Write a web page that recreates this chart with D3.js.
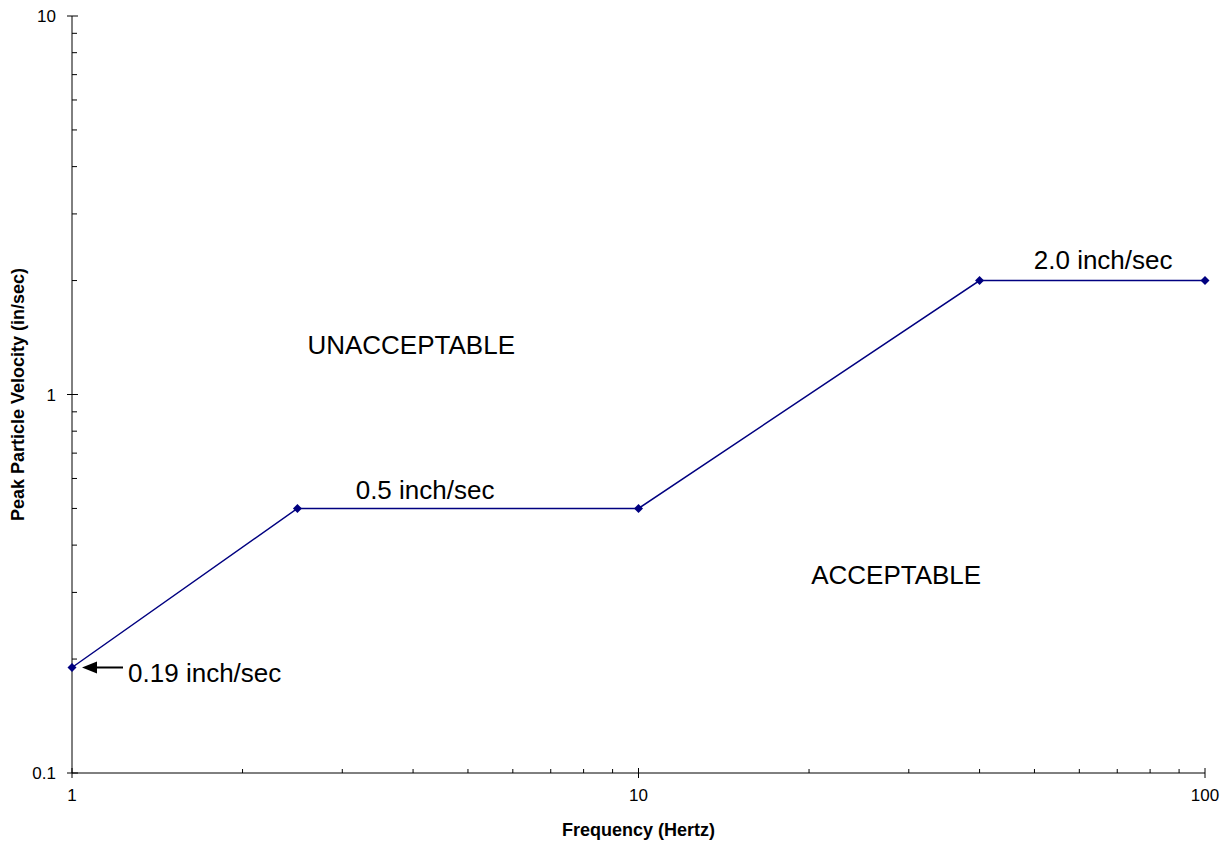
<!DOCTYPE html>
<html lang="en">
<head>
    <meta charset="UTF-8">
    <title>Vibration criteria</title>
    <script src="https://d3js.org/d3.v7.min.js"></script>
    <style>
        body { margin: 0; background: #fff; }
        text { font-family: Arial, "Liberation Sans", sans-serif; }
    </style>
</head>
<body>
    <svg width="1230" height="848"></svg>

    <script>
        // data
        const frequencies = [1, 2.5, 10, 40, 100];
        const velocities = [0.19, 0.5, 0.5, 2.0, 2.0];
        const xTickValues = [1, 10, 100];
        const yTickValues = [0.1, 1, 10];
        // label anchors in data units (frequency, velocity)
        const labels = [
            {text: "0.19 inch/sec", f: 1.256, v: 0.174, anchor: "start"},
            {text: "0.5 inch/sec", f: 4.2, v: 0.53, anchor: "middle"},
            {text: "2.0 inch/sec", f: 66.1, v: 2.146, anchor: "middle"},
            {text: "UNACCEPTABLE", f: 3.97, v: 1.279, anchor: "middle"},
            {text: "ACCEPTABLE", f: 28.5, v: 0.316, anchor: "middle"}
        ];

        const svg = d3.select("svg");

        const x = d3.scaleLog().domain([1, 100]).range([72, 1205]);
        const y = d3.scaleLog().domain([0.1, 10]).range([773, 16]);

        // minor ticks (inside only)
        const minorX = [];
        const minorY = [];
        for (let d = 1; d < 100; d *= 10) {
            for (let k = 2; k <= 9; k++) minorX.push(d * k);
        }
        for (let d = 0.1; d < 10; d *= 10) {
            for (let k = 2; k <= 9; k++) minorY.push(d * k);
        }

        const axisColor = "#000";

        svg.selectAll(".minorX").data(minorX).enter().append("line")
            .attr("x1", d => x(d)).attr("x2", d => x(d))
            .attr("y1", y(0.1)).attr("y2", y(0.1) - 4)
            .attr("stroke", axisColor).attr("stroke-width", 1);
        svg.selectAll(".minorY").data(minorY).enter().append("line")
            .attr("x1", x(1)).attr("x2", x(1) + 5)
            .attr("y1", d => y(d)).attr("y2", d => y(d))
            .attr("stroke", axisColor).attr("stroke-width", 1);

        // major ticks cross the axis
        svg.selectAll(".majorX").data(xTickValues).enter().append("line")
            .attr("x1", d => x(d)).attr("x2", d => x(d))
            .attr("y1", y(0.1) - 5).attr("y2", y(0.1) + 5)
            .attr("stroke", axisColor).attr("stroke-width", 1);
        svg.selectAll(".majorY").data(yTickValues).enter().append("line")
            .attr("x1", x(1) - 5).attr("x2", x(1) + 6)
            .attr("y1", d => y(d)).attr("y2", d => y(d))
            .attr("stroke", axisColor).attr("stroke-width", 1);

        // axis lines
        svg.append("line")
            .attr("x1", x(1)).attr("x2", x(100))
            .attr("y1", y(0.1)).attr("y2", y(0.1))
            .attr("stroke", axisColor).attr("stroke-width", 1);
        svg.append("line")
            .attr("x1", x(1)).attr("x2", x(1))
            .attr("y1", y(0.1)).attr("y2", y(10))
            .attr("stroke", axisColor).attr("stroke-width", 1);

        // tick labels
        svg.selectAll(".xLabel").data(xTickValues).enter().append("text")
            .attr("x", d => x(d)).attr("y", y(0.1) + 28)
            .attr("text-anchor", "middle")
            .attr("font-size", 17)
            .text(d => d);
        svg.selectAll(".yLabel").data(yTickValues).enter().append("text")
            .attr("x", x(1) - 16).attr("y", d => y(d) + 6)
            .attr("text-anchor", "end")
            .attr("font-size", 17)
            .text(d => d);

        // axis titles
        svg.append("text")
            .attr("x", x(10)).attr("y", 836)
            .attr("text-anchor", "middle")
            .attr("font-size", 18).attr("font-weight", "bold")
            .text("Frequency (Hertz)");
        svg.append("text")
            .attr("transform", "translate(24," + y(1) + ") rotate(-90)")
            .attr("text-anchor", "middle")
            .attr("font-size", 18).attr("font-weight", "bold")
            .text("Peak Particle Velocity (in/sec)");

        // criteria line
        const points = frequencies.map((f, i) => ({f: f, v: velocities[i]}));
        svg.append("path")
            .datum(points)
            .attr("fill", "none")
            .attr("stroke", "#000080")
            .attr("stroke-width", 1.5)
            .attr("d", d3.line().x(d => x(d.f)).y(d => y(d.v)));

        svg.selectAll(".marker").data(points).enter().append("path")
            .attr("transform", d => "translate(" + x(d.f) + "," + y(d.v) + ")")
            .attr("d", "M0,-4.5L4.5,0L0,4.5L-4.5,0Z")
            .attr("fill", "#000080");

        // arrow pointing at first point
        const ax = x(frequencies[0]), ay = y(velocities[0]);
        svg.append("line")
            .attr("x1", ax + 22).attr("x2", ax + 51)
            .attr("y1", ay).attr("y2", ay)
            .attr("stroke", "#000").attr("stroke-width", 2);
        svg.append("path")
            .attr("d", "M" + (ax + 10) + "," + ay + "L" + (ax + 25) + "," + (ay - 6) + "L" + (ax + 25) + "," + (ay + 6) + "Z")
            .attr("fill", "#000");

        // annotations
        svg.selectAll(".note").data(labels).enter().append("text")
            .attr("x", d => x(d.f)).attr("y", d => y(d.v))
            .attr("text-anchor", d => d.anchor)
            .attr("font-size", 26)
            .text(d => d.text);
    </script>
</body>
</html>
